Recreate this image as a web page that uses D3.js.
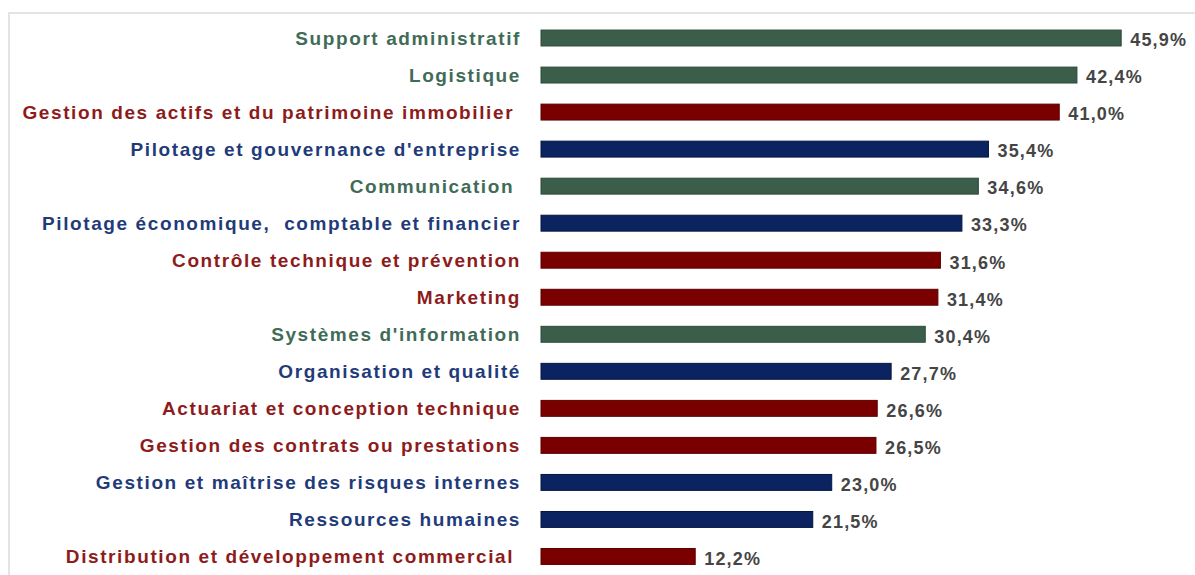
<!DOCTYPE html>
<html lang="fr">
<head>
  <meta charset="UTF-8">
  <title>Taux par famille de métiers</title>
  <style>
    *{margin:0;padding:0}
    body{background:#fff;width:1195px;height:575px;overflow:hidden}
    .cat{font-family:'Liberation Sans',Arial,sans-serif;font-weight:bold;font-size:19px;letter-spacing:1.6px}
    .val{font-family:'Liberation Sans',Arial,sans-serif;font-weight:bold;font-size:18px;letter-spacing:1.2px;fill:#454545}
  </style>
  <script src="https://d3js.org/d3.v7.min.js"></script>
</head>
<body>
  <div id="chart"></div>
  <script>
    /* ---------- DATA ---------- */
    const categories = [
      "Support administratif",
      "Logistique",
      "Gestion des actifs et du patrimoine immobilier ",
      "Pilotage et gouvernance d'entreprise",
      "Communication ",
      "Pilotage économique,  comptable et financier",
      "Contrôle technique et prévention",
      "Marketing",
      "Systèmes d'information",
      "Organisation et qualité",
      "Actuariat et conception technique",
      "Gestion des contrats ou prestations",
      "Gestion et maîtrise des risques internes",
      "Ressources humaines",
      "Distribution et développement commercial "
    ];
    const values = [45.9, 42.4, 41.0, 35.4, 34.6, 33.3, 31.6, 31.4, 30.4, 27.7, 26.6, 26.5, 23.0, 21.5, 12.2];
    const groups = ["support","support","operation","pilotage","support","pilotage","operation","operation","support","pilotage","operation","operation","pilotage","pilotage","operation"];

    /* ---------- STYLE ---------- */
    const barColor  = {support:"#3b5e4b", operation:"#7a0000", pilotage:"#0b2360"};
    const edgeColor = {support:"#2c4a3a", operation:"#5c0000", pilotage:"#06163f"};
    const textColor = {support:"#3f6b57", operation:"#8e1b1b", pilotage:"#1f3b7a"};

    const W = 1195, H = 575;
    const svg = d3.select('#chart').append('svg').attr('width', W).attr('height', H);

    // light frame
    svg.append('rect').attr('x', 9).attr('y', 13).attr('width', 1200).attr('height', 620)
       .attr('fill', 'none').attr('stroke', '#e4e4e4').attr('stroke-width', 2);

    const x = d3.scaleLinear().domain([0, 50]).range([541, 1173]);
    const y = d3.scaleBand().domain(categories).range([19.5, 575]).paddingInner(0.57).paddingOuter(0.285);

    const rows = categories.map((c, i) => ({cat: c, v: values[i], g: groups[i]}));

    /* ---- BARS ---- */
    svg.append('g').selectAll('rect').data(rows).join('rect')
       .attr('x', x(0)).attr('y', d => y(d.cat))
       .attr('width', d => x(d.v) - x(0)).attr('height', y.bandwidth())
       .attr('fill', d => barColor[d.g]).attr('stroke', d => edgeColor[d.g]).attr('stroke-width', 1);

    /* ---- CATEGORY LABELS ---- */
    svg.append('g').selectAll('text').data(rows).join('text')
       .attr('class', 'cat')
       .attr('x', 521).attr('y', d => y(d.cat) + y.bandwidth() / 2)
       .attr('dy', '0.35em').attr('text-anchor', 'end')
       .attr('fill', d => textColor[d.g])
       .style('white-space', 'pre')
       .text(d => d.cat);

    /* ---- VALUE LABELS ---- */
    svg.append('g').selectAll('text').data(rows).join('text')
       .attr('class', 'val')
       .attr('x', d => x(d.v) + 9).attr('y', d => y(d.cat) + y.bandwidth() / 2 + 2)
       .attr('dy', '0.35em')
       .text(d => d.v.toFixed(1).replace('.', ',') + '%');
  </script>
</body>
</html>
